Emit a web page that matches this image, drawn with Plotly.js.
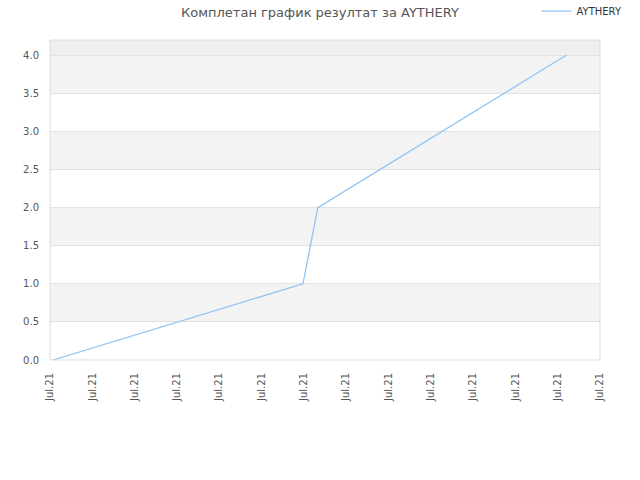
<!DOCTYPE html>
<html>
<head>
<meta charset="utf-8">
<script src="https://cdn.plot.ly/plotly-3.0.1.min.js"></script>
<style>
  body { margin: 0; }
  #plot { width: 640px; height: 480px; }
</style>
</head>
<body>
<div id="plot"></div>
<script>
// positions along the time axis, in tick units
let xVals = [0.07, 5.98, 6.33, 12.2]
let yVals = [0, 1, 2, 4]
let tickPos = [0, 1, 2, 3, 4, 5, 6, 7, 8, 9, 10, 11, 12, 13]
let tickLabels = tickPos.map(function () { return "Jul.21" })
let bandStarts = [0.5, 1.5, 2.5, 3.5]

let shapes = []
for (let b of bandStarts) {
    shapes.push({
        type: "rect", xref: "paper", yref: "y", layer: "below",
        x0: 0, x1: 1, y0: b, y1: b + 0.5,
        fillcolor: "#f3f3f3", line: { width: 0 }
    })
}
shapes.push({
    type: "rect", xref: "paper", yref: "y", layer: "below",
    x0: 0, x1: 1, y0: 4, y1: 4.2,
    fillcolor: "#efefef", line: { width: 0 }
})
shapes.push({
    type: "rect", xref: "paper", yref: "paper",
    x0: 0, x1: 1, y0: 0, y1: 1,
    line: { color: "#dddddd", width: 1 }
})

let data = [{
    x: xVals,
    y: yVals,
    name: "AYTHERY",
    type: "scatter",
    mode: "lines",
    line: { color: "#90c4f5", width: 1.3 }
}]

let layout = {
    width: 640,
    height: 480,
    margin: { l: 50, r: 40, t: 40, b: 120, autoexpand: false },
    paper_bgcolor: "#ffffff",
    plot_bgcolor: "#ffffff",
    font: { family: "DejaVu Sans", size: 10, color: "#555555" },
    title: {
        text: "Комплетан график резултат за AYTHERY",
        font: { family: "DejaVu Sans", size: 13, color: "#555555" },
        x: 0.5, xanchor: "center", y: 0.975, yanchor: "middle"
    },
    showlegend: true,
    legend: {
        x: 1.05, xanchor: "right", y: 1.09, yanchor: "middle",
        font: { size: 10, color: "#333333" },
        bgcolor: "rgba(0,0,0,0)",
        itemwidth: 30
    },
    xaxis: {
        range: [0, 13],
        tickvals: tickPos,
        ticktext: tickLabels,
        tickangle: -90,
        showgrid: false,
        zeroline: false,
        showline: false,
        ticks: "outside",
        ticklen: 8,
        tickcolor: "rgba(0,0,0,0)",
        tickfont: { size: 10, color: "#555555" },
        fixedrange: true
    },
    yaxis: {
        range: [0, 4.2],
        tickvals: [0, 0.5, 1, 1.5, 2, 2.5, 3, 3.5, 4],
        ticktext: ["0.0", "0.5", "1.0", "1.5", "2.0", "2.5", "3.0", "3.5", "4.0"],
        showgrid: true,
        gridcolor: "#e2e2e2",
        zeroline: false,
        showline: false,
        ticks: "outside",
        ticklen: 8,
        tickcolor: "rgba(0,0,0,0)",
        tickfont: { size: 10, color: "#555555" }
    },
    shapes: shapes
}

Plotly.newPlot("plot", data, layout, { displayModeBar: false, staticPlot: true })
</script>
</body>
</html>
